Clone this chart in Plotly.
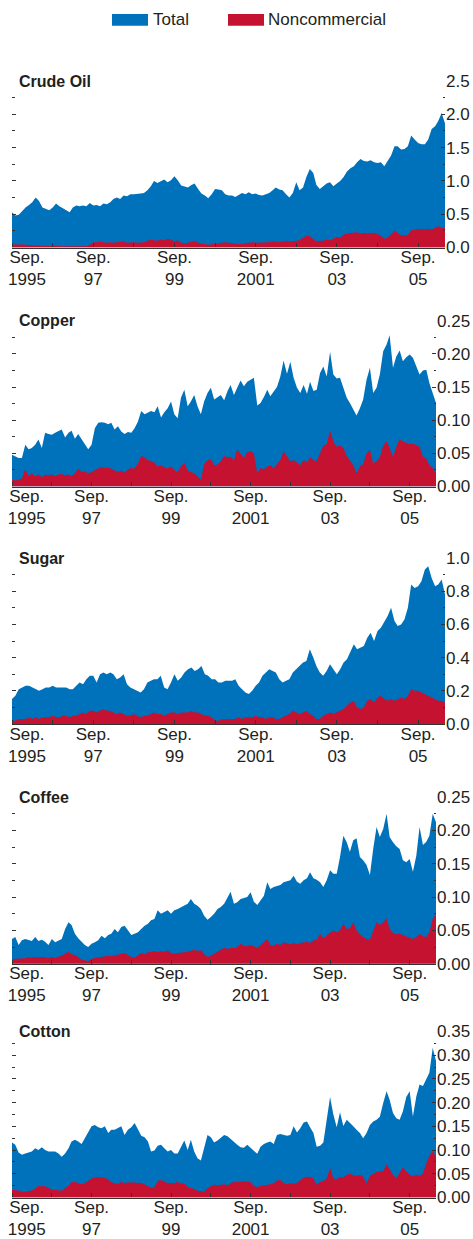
import pandas as pd
import plotly.graph_objects as go

# ---------------- data (monthly, Sep 1995 - May 2006) ----------------
dates = pd.date_range("1995-09-01", periods=129, freq="MS")

crude_total = [
    0.53, 0.48, 0.49, 0.55, 0.60, 0.64, 0.68, 0.75, 0.70, 0.60,
    0.58, 0.56, 0.60, 0.66, 0.62, 0.59, 0.55, 0.53, 0.60, 0.63,
    0.62, 0.63, 0.62, 0.67, 0.63, 0.64, 0.62, 0.66, 0.65, 0.68,
    0.73, 0.75, 0.73, 0.78, 0.77, 0.80, 0.80, 0.80, 0.81, 0.82,
    0.86, 0.92, 1.00, 0.97, 1.00, 1.02, 0.98, 1.01, 1.07, 1.01,
    0.93, 0.91, 0.90, 0.94, 0.96, 0.88, 0.81, 0.78, 0.74, 0.80,
    0.88, 0.87, 0.86, 0.80, 0.78, 0.78, 0.76, 0.79, 0.82, 0.80,
    0.83, 0.80, 0.81, 0.79, 0.78, 0.80, 0.82, 0.86, 0.90, 0.87,
    0.86, 0.80, 0.75, 0.82, 0.98, 0.86, 0.90, 1.06, 1.18, 1.12,
    0.94, 0.88, 0.92, 0.96, 0.98, 0.92, 0.96, 1.00, 1.06, 1.14,
    1.19, 1.22, 1.28, 1.33, 1.30, 1.29, 1.31, 1.28, 1.27, 1.28,
    1.22, 1.30, 1.38, 1.52, 1.52, 1.47, 1.48, 1.52, 1.68, 1.62,
    1.57, 1.55, 1.55, 1.62, 1.78, 1.82, 1.90, 2.02, 1.86]
crude_noncomm = [
    0.04, 0.05, 0.04, 0.05, 0.04, 0.04, 0.03, 0.03, 0.03, 0.02,
    0.03, 0.02, 0.03, 0.03, 0.02, 0.02, 0.03, 0.02, 0.03, 0.03,
    0.03, 0.03, 0.02, 0.04, 0.08, 0.08, 0.09, 0.08, 0.07, 0.08,
    0.07, 0.08, 0.08, 0.09, 0.07, 0.08, 0.08, 0.07, 0.07, 0.08,
    0.10, 0.12, 0.11, 0.10, 0.12, 0.11, 0.13, 0.12, 0.09, 0.11,
    0.07, 0.06, 0.07, 0.08, 0.10, 0.07, 0.06, 0.05, 0.04, 0.05,
    0.06, 0.07, 0.07, 0.08, 0.07, 0.07, 0.06, 0.05, 0.06, 0.07,
    0.07, 0.08, 0.07, 0.07, 0.08, 0.07, 0.08, 0.09, 0.08, 0.08,
    0.09, 0.10, 0.09, 0.09, 0.10, 0.11, 0.14, 0.18, 0.17, 0.12,
    0.09, 0.10, 0.10, 0.12, 0.11, 0.13, 0.16, 0.15, 0.19, 0.21,
    0.22, 0.22, 0.23, 0.21, 0.22, 0.21, 0.22, 0.22, 0.20, 0.18,
    0.13, 0.15, 0.20, 0.25, 0.22, 0.18, 0.18, 0.19, 0.26, 0.27,
    0.27, 0.28, 0.27, 0.28, 0.27, 0.29, 0.32, 0.29, 0.30]

copper_total = [
    0.048, 0.046, 0.043, 0.043, 0.063, 0.056, 0.058, 0.063, 0.071, 0.058,
    0.081, 0.079, 0.078, 0.081, 0.084, 0.086, 0.074, 0.081, 0.084, 0.072,
    0.079, 0.071, 0.063, 0.056, 0.063, 0.088, 0.096, 0.097, 0.096, 0.094,
    0.096, 0.086, 0.091, 0.083, 0.079, 0.082, 0.081, 0.088, 0.098, 0.114,
    0.109, 0.111, 0.114, 0.112, 0.121, 0.104, 0.112, 0.118, 0.128, 0.109,
    0.103, 0.134, 0.146, 0.121, 0.128, 0.138, 0.121, 0.109, 0.128, 0.141,
    0.149, 0.131, 0.134, 0.138, 0.130, 0.144, 0.153, 0.138, 0.149, 0.160,
    0.151, 0.158, 0.161, 0.164, 0.122, 0.126, 0.135, 0.146, 0.136, 0.144,
    0.150, 0.166, 0.190, 0.170, 0.188, 0.164, 0.149, 0.141, 0.153, 0.140,
    0.158, 0.144, 0.146, 0.171, 0.181, 0.166, 0.203, 0.169, 0.163, 0.164,
    0.149, 0.134, 0.126, 0.116, 0.107, 0.118, 0.131, 0.161, 0.179, 0.141,
    0.149, 0.169, 0.204, 0.214, 0.228, 0.179, 0.196, 0.205, 0.189, 0.195,
    0.199, 0.194, 0.181, 0.169, 0.175, 0.176, 0.156, 0.141, 0.126]
copper_noncomm = [
    0.010, 0.009, 0.010, 0.012, 0.026, 0.016, 0.020, 0.015, 0.018, 0.014,
    0.018, 0.017, 0.018, 0.016, 0.018, 0.019, 0.017, 0.018, 0.016, 0.020,
    0.027, 0.022, 0.023, 0.020, 0.022, 0.025, 0.027, 0.029, 0.028, 0.029,
    0.027, 0.024, 0.022, 0.024, 0.021, 0.026, 0.028, 0.027, 0.035, 0.046,
    0.044, 0.040, 0.038, 0.036, 0.030, 0.032, 0.029, 0.027, 0.030, 0.025,
    0.022, 0.030, 0.036, 0.024, 0.022, 0.020, 0.016, 0.010, 0.033, 0.040,
    0.041, 0.032, 0.033, 0.038, 0.046, 0.044, 0.045, 0.040, 0.056, 0.050,
    0.043, 0.052, 0.053, 0.050, 0.020, 0.028, 0.026, 0.030, 0.032, 0.028,
    0.034, 0.040, 0.053, 0.045, 0.038, 0.040, 0.036, 0.032, 0.040, 0.036,
    0.044, 0.040, 0.038, 0.050, 0.062, 0.064, 0.085, 0.068, 0.060, 0.062,
    0.058, 0.046, 0.040, 0.032, 0.020, 0.030, 0.034, 0.050, 0.055, 0.035,
    0.038, 0.044, 0.062, 0.068, 0.058, 0.045, 0.060, 0.072, 0.068, 0.066,
    0.064, 0.065, 0.062, 0.060, 0.045, 0.042, 0.032, 0.028, 0.020]

sugar_total = [
    0.15, 0.17, 0.21, 0.22, 0.23, 0.23, 0.22, 0.21, 0.20, 0.21,
    0.22, 0.22, 0.23, 0.22, 0.22, 0.22, 0.22, 0.21, 0.21, 0.23,
    0.25, 0.24, 0.27, 0.29, 0.29, 0.25, 0.30, 0.31, 0.30, 0.31,
    0.30, 0.27, 0.28, 0.30, 0.24, 0.22, 0.21, 0.20, 0.19, 0.21,
    0.25, 0.26, 0.27, 0.27, 0.29, 0.22, 0.21, 0.25, 0.30, 0.26,
    0.28, 0.31, 0.33, 0.34, 0.32, 0.33, 0.35, 0.30, 0.29, 0.27,
    0.27, 0.25, 0.25, 0.26, 0.26, 0.26, 0.27, 0.23, 0.21, 0.19,
    0.18, 0.20, 0.23, 0.25, 0.29, 0.31, 0.33, 0.32, 0.31, 0.27,
    0.25, 0.26, 0.27, 0.31, 0.33, 0.35, 0.37, 0.38, 0.45, 0.40,
    0.35, 0.31, 0.29, 0.32, 0.36, 0.33, 0.30, 0.33, 0.37, 0.39,
    0.44, 0.48, 0.45, 0.46, 0.47, 0.52, 0.55, 0.50, 0.56, 0.58,
    0.62, 0.65, 0.70, 0.62, 0.59, 0.60, 0.63, 0.70, 0.84, 0.82,
    0.83, 0.86, 0.93, 0.95, 0.88, 0.83, 0.84, 0.87, 0.78]
sugar_noncomm = [
    0.02, 0.02, 0.03, 0.03, 0.03, 0.04, 0.03, 0.04, 0.03, 0.04,
    0.04, 0.04, 0.05, 0.04, 0.04, 0.05, 0.05, 0.04, 0.05, 0.05,
    0.06, 0.07, 0.06, 0.08, 0.08, 0.07, 0.08, 0.09, 0.08, 0.08,
    0.07, 0.06, 0.07, 0.06, 0.05, 0.05, 0.06, 0.05, 0.04, 0.05,
    0.05, 0.06, 0.07, 0.06, 0.06, 0.05, 0.06, 0.07, 0.07, 0.06,
    0.07, 0.07, 0.07, 0.08, 0.07, 0.07, 0.06, 0.05, 0.05, 0.04,
    0.02, 0.02, 0.03, 0.03, 0.03, 0.03, 0.03, 0.04, 0.03, 0.04,
    0.04, 0.04, 0.05, 0.04, 0.04, 0.03, 0.04, 0.04, 0.03, 0.03,
    0.04, 0.05, 0.06, 0.08, 0.07, 0.06, 0.07, 0.08, 0.06, 0.05,
    0.03, 0.03, 0.05, 0.06, 0.07, 0.06, 0.07, 0.08, 0.09, 0.11,
    0.13, 0.14, 0.10, 0.09, 0.10, 0.14, 0.15, 0.13, 0.16, 0.17,
    0.15, 0.14, 0.15, 0.14, 0.15, 0.16, 0.15, 0.17, 0.21, 0.20,
    0.20, 0.19, 0.18, 0.17, 0.16, 0.15, 0.14, 0.14, 0.13]

coffee_total = [
    0.037, 0.040, 0.028, 0.035, 0.037, 0.036, 0.034, 0.040, 0.034, 0.036,
    0.033, 0.028, 0.037, 0.032, 0.035, 0.037, 0.052, 0.062, 0.058, 0.045,
    0.038, 0.033, 0.028, 0.025, 0.030, 0.032, 0.035, 0.042, 0.038, 0.043,
    0.045, 0.052, 0.047, 0.055, 0.057, 0.050, 0.043, 0.045, 0.047, 0.052,
    0.057, 0.060, 0.065, 0.067, 0.080, 0.075, 0.078, 0.080, 0.075, 0.080,
    0.082, 0.085, 0.088, 0.090, 0.097, 0.090, 0.087, 0.082, 0.072, 0.066,
    0.070, 0.075, 0.082, 0.085, 0.090, 0.100, 0.108, 0.090, 0.092, 0.097,
    0.098, 0.100, 0.107, 0.093, 0.088, 0.095, 0.102, 0.122, 0.112, 0.115,
    0.116, 0.118, 0.122, 0.124, 0.125, 0.132, 0.123, 0.120, 0.125, 0.128,
    0.137, 0.128, 0.126, 0.122, 0.115, 0.125, 0.140, 0.135, 0.135, 0.160,
    0.192, 0.182, 0.168, 0.185, 0.188, 0.160, 0.155, 0.148, 0.133, 0.172,
    0.205, 0.190, 0.202, 0.225, 0.190, 0.182, 0.176, 0.172, 0.155, 0.152,
    0.157, 0.138, 0.162, 0.205, 0.178, 0.183, 0.192, 0.225, 0.212]
coffee_noncomm = [
    0.007, 0.007, 0.008, 0.007, 0.008, 0.010, 0.009, 0.010, 0.010, 0.009,
    0.010, 0.008, 0.010, 0.009, 0.010, 0.012, 0.015, 0.018, 0.014, 0.013,
    0.010, 0.006, 0.005, 0.004, 0.007, 0.009, 0.010, 0.010, 0.011, 0.012,
    0.011, 0.012, 0.014, 0.015, 0.016, 0.013, 0.010, 0.009, 0.012, 0.016,
    0.014, 0.017, 0.018, 0.019, 0.017, 0.019, 0.018, 0.020, 0.016, 0.015,
    0.016, 0.016, 0.017, 0.018, 0.020, 0.021, 0.019, 0.020, 0.014, 0.010,
    0.012, 0.015, 0.018, 0.022, 0.024, 0.022, 0.024, 0.023, 0.025, 0.030,
    0.027, 0.026, 0.028, 0.026, 0.024, 0.028, 0.032, 0.037, 0.028, 0.027,
    0.030, 0.028, 0.032, 0.030, 0.029, 0.031, 0.029, 0.031, 0.032, 0.033,
    0.031, 0.035, 0.036, 0.045, 0.038, 0.042, 0.046, 0.050, 0.047, 0.050,
    0.060, 0.052, 0.053, 0.062, 0.050, 0.044, 0.040, 0.037, 0.036, 0.050,
    0.062, 0.058, 0.062, 0.068, 0.052, 0.046, 0.044, 0.045, 0.043, 0.040,
    0.038, 0.037, 0.040, 0.045, 0.041, 0.040, 0.047, 0.067, 0.075]

cotton_total = [
    0.116, 0.111, 0.095, 0.090, 0.093, 0.095, 0.097, 0.104, 0.100, 0.106,
    0.100, 0.097, 0.097, 0.097, 0.093, 0.086, 0.093, 0.104, 0.118, 0.122,
    0.118, 0.113, 0.125, 0.139, 0.150, 0.153, 0.148, 0.146, 0.150, 0.136,
    0.143, 0.143, 0.146, 0.150, 0.132, 0.143, 0.148, 0.157, 0.144, 0.130,
    0.127, 0.118, 0.097, 0.099, 0.109, 0.111, 0.104, 0.097, 0.100, 0.093,
    0.093, 0.107, 0.120, 0.100, 0.122, 0.097, 0.083, 0.078, 0.104, 0.132,
    0.127, 0.116, 0.120, 0.127, 0.132, 0.129, 0.123, 0.116, 0.111, 0.106,
    0.105, 0.111, 0.104, 0.097, 0.092, 0.107, 0.113, 0.116, 0.118, 0.113,
    0.132, 0.134, 0.132, 0.130, 0.132, 0.150, 0.137, 0.146, 0.158, 0.160,
    0.148, 0.136, 0.107, 0.109, 0.116, 0.164, 0.212, 0.175, 0.148, 0.180,
    0.151, 0.164, 0.158, 0.150, 0.143, 0.136, 0.125, 0.136, 0.153, 0.160,
    0.164, 0.170, 0.199, 0.224, 0.206, 0.178, 0.167, 0.164, 0.182, 0.212,
    0.224, 0.171, 0.213, 0.238, 0.235, 0.249, 0.263, 0.316, 0.288]
cotton_noncomm = [
    0.016, 0.016, 0.014, 0.012, 0.012, 0.013, 0.015, 0.019, 0.024, 0.023,
    0.024, 0.020, 0.017, 0.016, 0.015, 0.014, 0.020, 0.025, 0.032, 0.033,
    0.030, 0.028, 0.030, 0.035, 0.040, 0.042, 0.043, 0.042, 0.041, 0.038,
    0.032, 0.030, 0.028, 0.033, 0.030, 0.032, 0.031, 0.032, 0.030, 0.031,
    0.028, 0.024, 0.020, 0.022, 0.035, 0.037, 0.034, 0.030, 0.031, 0.030,
    0.033, 0.029, 0.030, 0.022, 0.020, 0.018, 0.014, 0.013, 0.012, 0.020,
    0.024, 0.027, 0.026, 0.027, 0.028, 0.026, 0.030, 0.033, 0.032, 0.033,
    0.034, 0.033, 0.032, 0.024, 0.022, 0.024, 0.025, 0.026, 0.028, 0.030,
    0.036, 0.037, 0.030, 0.028, 0.030, 0.029, 0.031, 0.036, 0.042, 0.044,
    0.043, 0.040, 0.027, 0.033, 0.034, 0.040, 0.062, 0.040, 0.038, 0.044,
    0.042, 0.048, 0.050, 0.047, 0.046, 0.048, 0.044, 0.030, 0.045, 0.050,
    0.054, 0.055, 0.056, 0.070, 0.058, 0.048, 0.040, 0.052, 0.064, 0.055,
    0.048, 0.045, 0.048, 0.046, 0.050, 0.072, 0.088, 0.097, 0.086]

panel_titles = ["Crude Oil", "Copper", "Sugar", "Coffee", "Cotton"]
series_names = ["Total", "Noncommercial"]

label_tickvals = ["1996-01-14", "1997-09-01", "1999-09-01",
                  "2001-09-01", "2003-09-01", "2005-09-01"]
label_ticktext = ["Sep.<br>1995", "Sep.<br>97", "Sep.<br>99",
                  "Sep.<br>2001", "Sep.<br>03", "Sep.<br>05"]
year_ticks = ["1995-09-01", "1996-09-01", "1997-09-01", "1998-09-01",
              "1999-09-01", "2000-09-01", "2001-09-01", "2002-09-01",
              "2003-09-01", "2004-09-01", "2005-09-01"]

# ---------------- styling / layout ----------------
W, H = 473, 1239
BLUE = "#0072BC"
RED = "#C41230"
TXT = "#231F20"
FONT = "Liberation Sans, Arial, sans-serif"
FS = 16      # titles
TFS = 17     # tick labels / legend

panels = [
    # total, noncomm, ymax, dtick, fmt, right px, top px, bottom px
    (crude_total, crude_noncomm, 2.5, 0.5, ".1f", 445, 81, 247.5),
    (copper_total, copper_noncomm, 0.25, 0.05, ".2f", 436, 320.7, 486.5),
    (sugar_total, sugar_noncomm, 1.0, 0.2, ".1f", 445, 558, 724),
    (coffee_total, coffee_noncomm, 0.25, 0.05, ".2f", 436, 797, 963.7),
    (cotton_total, cotton_noncomm, 0.35, 0.05, ".2f", 436, 1031.5, 1197.5),
]

fig = go.Figure()
layout = {}
annotations = []

for k, (tot, nc, ymax, dt, fmt, xr, top, bot) in enumerate(panels, start=1):
    xa = "x" if k == 1 else f"x{k}"
    ya = "y" if k == 1 else f"y{k}"
    fig.add_trace(go.Scatter(x=dates, y=tot, name=series_names[0], mode="lines",
                             line=dict(width=0, color=BLUE), fill="tozeroy",
                             fillcolor=BLUE, xaxis=xa, yaxis=ya, showlegend=False))
    fig.add_trace(go.Scatter(x=dates, y=nc, name=series_names[1], mode="lines",
                             line=dict(width=0, color=RED), fill="tozeroy",
                             fillcolor=RED, xaxis=xa, yaxis=ya, showlegend=False))
    xkey = "xaxis" if k == 1 else f"xaxis{k}"
    ykey = "yaxis" if k == 1 else f"yaxis{k}"
    layout[xkey] = dict(
        domain=[12 / W, xr / W], anchor=ya, type="date", automargin=False,
        range=[dates[0], dates[-1]],
        showgrid=False, zeroline=False,
        showline=True, linecolor="#333333", linewidth=1.2,
        tickmode="array", tickvals=label_tickvals, ticktext=label_ticktext,
        ticks="outside", ticklen=0, tickcolor="rgba(0,0,0,0)",
        ticklabelstandoff=-6,
        tickfont=dict(family=FONT, size=TFS, color=TXT),
        minor=dict(tickmode="array", tickvals=year_ticks, ticks="inside",
                   ticklen=4, tickwidth=1, tickcolor="#333333", showgrid=False),
        fixedrange=True,
    )
    layout[ykey] = dict(
        domain=[1 - bot / H, 1 - top / H], anchor=xa, side="right", automargin=False,
        range=[0, ymax], tick0=0, dtick=dt, tickformat=fmt,
        showgrid=False, zeroline=False, showline=False,
        ticks="inside", ticklen=4, tickwidth=1, tickcolor="#333333",
        mirror="ticks",
        minor=dict(ticks="inside", ticklen=2.5, tickwidth=1,
                   tickcolor="#333333", dtick=dt / 2, tick0=0, showgrid=False),
        tickfont=dict(family=FONT, size=TFS, color=TXT),
        fixedrange=True,
    )
    annotations.append(dict(
        text=f"<b>{panel_titles[k - 1]}</b>", xref=f"{xa} domain", yref=f"{ya} domain",
        x=0, y=1, xanchor="left", yanchor="middle", xshift=5, showarrow=False,
        font=dict(family=FONT, size=FS, color=TXT)))

# legend drawn as swatches + text
shapes = [
    dict(type="rect", xref="paper", yref="paper", x0=112 / W, x1=148 / W,
         y0=1 - 25.7 / H, y1=1 - 14 / H, fillcolor=BLUE, line=dict(width=0)),
    dict(type="rect", xref="paper", yref="paper", x0=228 / W, x1=264 / W,
         y0=1 - 25.7 / H, y1=1 - 14 / H, fillcolor=RED, line=dict(width=0)),
]
annotations.append(dict(text=series_names[0], xref="paper", yref="paper",
                        x=151 / W, y=1 - 20 / H, xanchor="left", yanchor="middle",
                        showarrow=False, font=dict(family=FONT, size=TFS, color=TXT)))
annotations.append(dict(text=series_names[1], xref="paper", yref="paper",
                        x=266 / W, y=1 - 20 / H, xanchor="left", yanchor="middle",
                        showarrow=False, font=dict(family=FONT, size=TFS, color=TXT)))

fig.update_layout(
    width=W, height=H, margin=dict(l=0, r=0, t=0, b=0, pad=0, autoexpand=False),
    paper_bgcolor="white", plot_bgcolor="white",
    showlegend=False, annotations=annotations, shapes=shapes,
    font=dict(family=FONT, size=TFS, color=TXT),
    **layout,
)

fig.write_html("out.html", config={"displayModeBar": False},
               post_script="document.body.style.margin='0';"
                           "document.body.style.overflow='hidden';")
